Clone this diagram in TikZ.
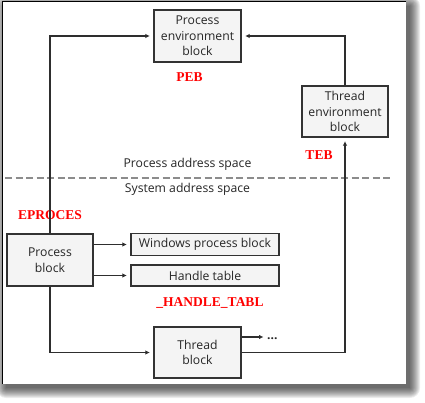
\documentclass[tikz,border=0pt]{standalone}
\usepackage{fontspec}
\setmainfont{Open Sans}
\newfontfamily\redfont{Liberation Serif}
\usetikzlibrary{arrows.meta}
\definecolor{boxc}{HTML}{333333}
\definecolor{boxfill}{HTML}{F4F4F4}
\definecolor{linec}{HTML}{2E2E2E}
\definecolor{txtc}{HTML}{262626}
\definecolor{dashc}{HTML}{8C8C8C}
\tikzset{
  blk/.style={draw=boxc, fill=boxfill, line width=1.3pt, text=txtc, align=center, inner sep=0pt,
    font=\fontsize{12.2}{15.5}\selectfont},
  lbl/.style={text=red, font=\redfont\bfseries\fontsize{13.5}{13.5}\selectfont, inner sep=0pt},
  plain/.style={text=txtc, inner sep=0pt, font=\fontsize{12.2}{15.5}\selectfont},
  conn/.style={draw=linec, line width=1.3pt, -{Latex[length=4.5pt,width=4.5pt]}, shorten >=3.5pt},
}
\begin{document}
\begin{tikzpicture}[x=1pt,y=-1pt]
\useasboundingbox (0,0) rectangle (425,403);
% shadow
\foreach \r in {0,...,10}{
  \fill[black,opacity=0.075,rounded corners=\r pt] (6-\r,6-\r) rectangle (410+\r,388+\r);
}
\fill[white] (2,2) rectangle (406,384);
\draw[black,line width=1pt] (2,384) -- (2,2) -- (406,2);
% nodes
\node[blk, minimum width=87pt, minimum height=52pt] (peb) at (197.5,36) {Process\\environment\\block};
\node[blk, minimum width=86pt, minimum height=51pt] (teb) at (345,111.5) {Thread\\environment\\block};
\node[blk, minimum width=86pt, minimum height=52pt] (proc) at (50,260) {Process\\block};
\node[blk, minimum width=148pt, minimum height=22pt] (wpb) at (205,244.5) {Windows process block};
\node[blk, minimum width=148pt, minimum height=21pt] (ht) at (205,275.5) {Handle table};
\node[blk, minimum width=87pt, minimum height=51pt] (thr) at (197.5,352.5) {Thread\\block};
\node[plain, anchor=base west, font=\bfseries\fontsize{12}{15}\selectfont] (dots) at (267,339.5) {...};
% labels
\node[lbl] (lpeb) at (189.5,77) {PEB};
\node[lbl] (lteb) at (319,155) {TEB};
\node[lbl] (lep) at (50,215) {EPROCES};
\node[lbl] (lht) at (210,303) {\_HANDLE\_TABL};
\node[plain] (pas) at (187.5,164.5) {Process address space};
\node[plain] (sas) at (187.5,189) {System address space};
\coordinate (dl) at (5,178);
\coordinate (dr) at (392,178);
\draw[dashc, line width=1.5pt, dash pattern=on 7pt off 3.5pt] (dl) -- (dr);
% connectors
\draw[conn] (proc.north) |- (peb.west);
\draw[conn] (teb.north) |- (peb.east);
\draw[conn] (proc.east |- wpb) -- (wpb.west);
\draw[conn] (proc.east |- ht) -- (ht.west);
\draw[conn] (proc.south) |- (thr.west);
\draw[conn] (thr.east) -| (teb.south);
\draw[conn] (thr.east |- 0,337) -- (dots.west |- 0,337);
\end{tikzpicture}
\end{document}
